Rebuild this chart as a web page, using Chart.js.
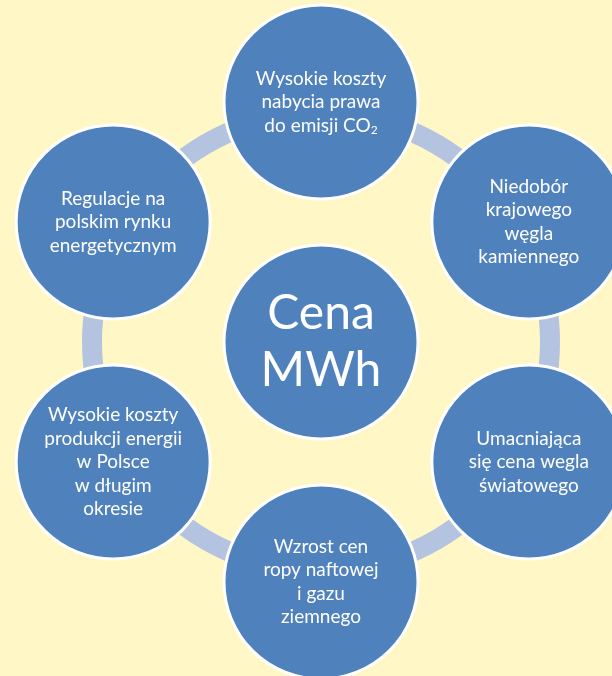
<!DOCTYPE html>
<html>
<head>
<meta charset="utf-8">
<script src="https://cdn.jsdelivr.net/npm/chart.js@4"></script>
<style>
  html, body { margin: 0; padding: 0; background: #FFF8C6; }
  canvas { display: block; }
</style>
</head>
<body>
<canvas id="Chart" width="612" height="676"></canvas>
<script>
// texts of the cycle, clockwise from the top; "_" starts a subscript
const centerLabel = ['Cena', 'MWh'];
const outerLabels = [
    ['Wysokie koszty', 'nabycia prawa', 'do emisji CO_2'],
    ['Niedobór', 'krajowego', 'węgla', 'kamiennego'],
    ['Umacniająca', 'się cena wegla', 'światowego'],
    ['Wzrost cen', 'ropy naftowej', 'i gazu', 'ziemnego'],
    ['Wysokie koszty', 'produkcji energii', 'w Polsce', 'w długim', 'okresie'],
    ['Regulacje na', 'polskim rynku', 'energetycznym']
];

// layout of the diagram (in canvas pixels)
const CX = 321, CY = 342, DIST = 240, RING = 229, NODE_R = 97;

const nodes = [{ x: CX, y: CY, r: NODE_R }].concat(outerLabels.map((l, i) => {
    const a = (-90 + i * 60) * Math.PI / 180;
    return { x: CX + DIST * Math.cos(a), y: CY + DIST * Math.sin(a), r: NODE_R };
}));
const allLabels = [centerLabel].concat(outerLabels);

const backgroundPlugin = {
    id: 'background',
    beforeDraw(chart) {
        const ctx = chart.ctx;
        ctx.save();
        ctx.fillStyle = '#FFF8C6';
        ctx.fillRect(0, 0, chart.width, chart.height);
        ctx.restore();
    }
};

const ringPlugin = {
    id: 'ring',
    beforeDatasetsDraw(chart) {
        const { ctx, scales: { x, y } } = chart;
        const r = x.getPixelForValue(CX + RING) - x.getPixelForValue(CX);
        ctx.save();
        ctx.strokeStyle = '#B4C3DF';
        ctx.lineWidth = 20;
        ctx.beginPath();
        ctx.arc(x.getPixelForValue(CX), y.getPixelForValue(CY), r, 0, Math.PI * 2);
        ctx.stroke();
        ctx.restore();
    }
};

const drawLine = (ctx, text, x, y, size) => {
    const parts = text.split('_');
    ctx.font = size + 'px Lato';
    const w0 = ctx.measureText(parts[0]).width;
    let w1 = 0;
    if (parts[1]) {
        ctx.font = Math.round(size * 0.65) + 'px Lato';
        w1 = ctx.measureText(parts[1]).width;
    }
    const start = x - (w0 + w1) / 2;
    ctx.font = size + 'px Lato';
    ctx.fillText(parts[0], start, y);
    if (parts[1]) {
        ctx.font = Math.round(size * 0.65) + 'px Lato';
        ctx.fillText(parts[1], start + w0, y + size * 0.25);
    }
};

const labelPlugin = {
    id: 'labels',
    afterDatasetsDraw(chart) {
        const ctx = chart.ctx;
        const meta = chart.getDatasetMeta(0);
        ctx.save();
        ctx.fillStyle = '#FFFFFF';
        ctx.textAlign = 'left';
        ctx.textBaseline = 'middle';
        meta.data.forEach((el, i) => {
            const lines = allLabels[i];
            const size = i === 0 ? 48 : 19;
            const lh = i === 0 ? 57 : 23.5;
            const top = el.y - (lines.length - 1) * lh / 2;
            lines.forEach((t, j) => drawLine(ctx, t, el.x, top + j * lh, size));
        });
        ctx.restore();
    }
};

const config = {
    type: 'bubble',
    data: {
        datasets: [{
            data: nodes,
            backgroundColor: '#4F81BD',
            borderColor: '#FFFFFF',
            borderWidth: 3,
            hoverBorderWidth: 3,
            clip: false
        }]
    },
    options: {
        responsive: false,
        animation: false,
        events: [],
        layout: { padding: 0, autoPadding: false },
        scales: {
            x: { type: 'linear', min: 0, max: 612, display: false },
            y: { type: 'linear', min: 0, max: 676, reverse: true, display: false }
        },
        plugins: {
            legend: { display: false },
            tooltip: { enabled: false }
        }
    },
    plugins: [backgroundPlugin, ringPlugin, labelPlugin]
};

const myChart = new Chart(document.getElementById('Chart'), config);
</script>
</body>
</html>
